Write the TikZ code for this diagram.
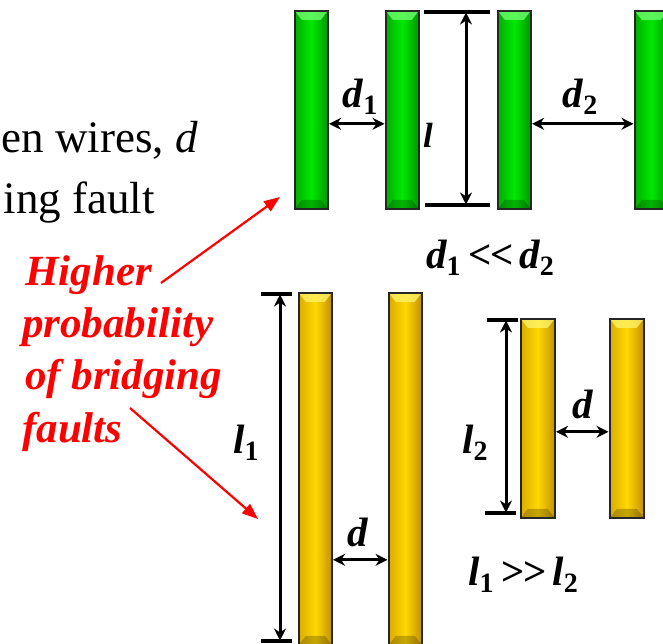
\documentclass[tikz,border=0pt]{standalone}
\usepackage{fontspec}
\setmainfont{Liberation Serif}
\usetikzlibrary{arrows.meta}
\definecolor{gmain}{RGB}{0,232,0}
\definecolor{gdark}{RGB}{0,150,0}
\definecolor{glight}{RGB}{120,255,120}
\definecolor{ymain}{RGB}{255,215,0}
\definecolor{ydark}{RGB}{195,145,0}
\definecolor{ylight}{RGB}{255,245,110}
\definecolor{redtxt}{RGB}{255,0,0}
\newcommand{\wsub}[1]{\raisebox{-0.16em}{\fontsize{28}{28}\selectfont\bfseries\upshape #1}}
\tikzset{
  wire/.style={draw=black!85, line width=1.6pt, inner sep=0pt, minimum width=33pt, anchor=north west,
    path picture={
      \fill[#1,opacity=0.75] (path picture bounding box.north west) -- (path picture bounding box.north east)
        -- ([xshift=-7pt,yshift=-9pt]path picture bounding box.north east)
        -- ([xshift=7pt,yshift=-9pt]path picture bounding box.north west) -- cycle;
      \fill[black,opacity=0.22] (path picture bounding box.south west) -- (path picture bounding box.south east)
        -- ([xshift=-7pt,yshift=9pt]path picture bounding box.south east)
        -- ([xshift=7pt,yshift=9pt]path picture bounding box.south west) -- cycle;
    }},
  gwire/.style={wire=glight, left color=gdark!70!gmain, right color=gdark, middle color=gmain},
  ywire/.style={wire=ylight, left color=ydark!60!ymain, right color=ydark, middle color=ymain},
  dimarrow/.style={line width=3pt, {Stealth[length=12pt,width=12pt]}-{Stealth[length=12pt,width=12pt]}, shorten <=0.5pt, shorten >=0.5pt},
  tickbar/.style={line width=3.8pt},
  lab/.style={font=\fontsize{41}{41}\selectfont\bfseries\itshape, inner sep=0pt},
  redlab/.style={font=\fontsize{43}{43}\selectfont\bfseries\itshape, text=redtxt, inner sep=0pt, anchor=base west},
  bodytext/.style={font=\fontsize{45}{45}\selectfont, inner sep=0pt, anchor=base east},
  redarrow/.style={draw=redtxt, line width=2.2pt, -{Triangle[length=16pt,width=12pt]}}
}
\begin{document}
\begin{tikzpicture}[x=1pt,y=-1pt]
\useasboundingbox (0,0) rectangle (663,643);
\clip (0,0) rectangle (663,643);

% body text (cut at left)
\node[bodytext] (t1) at (198,152) {en wires, \textit{d}};
\node[bodytext] (t2) at (155,213) {ing fault};

% green wires
\node[gwire, minimum height=198pt] (g1) at (294,10) {};
\node[gwire, minimum height=198pt] (g2) at (385,10) {};
\node[gwire, minimum height=198pt] (g3) at (497,10) {};
\node[gwire, minimum height=198pt] (g4) at (634,10) {};

\draw[dimarrow] ([yshift=-14pt]g1.east) -- ([yshift=-14pt]g2.west);
\draw[dimarrow] ([yshift=-14pt]g3.east) -- ([yshift=-14pt]g4.west);
\node[lab] (d1) at (360,97) {d\wsub{1}};
\node[lab] (d2) at (580,97) {d\wsub{2}};

\coordinate (lt) at (466,12);
\coordinate (lb) at (466,205);
\draw[tickbar] ([xshift=-42pt]lt) -- ([xshift=24pt]lt);
\draw[tickbar] ([xshift=-41pt]lb) -- ([xshift=24pt]lb);
\draw[dimarrow] (lt) -- (lb);
\node[lab, font=\fontsize{35}{35}\selectfont\bfseries\itshape] (l) at (428,135) {l};

\node[lab] (cmp1) at (490,258) {d\wsub{1}\kern8pt{\upshape\textless\kern-2pt\textless}\kern6pt d\wsub{2}};

% yellow wires
\node[ywire, minimum height=352pt] (ya) at (298,292) {};
\node[ywire, minimum height=352pt] (yb) at (388,292) {};
\node[ywire, minimum height=199pt, minimum width=34pt] (yc) at (520,318) {};
\node[ywire, minimum height=199pt, minimum width=34pt] (yd) at (609,318) {};

\coordinate (l1t) at (280,294);
\coordinate (l1b) at (280,641);
\draw[tickbar] ([xshift=-19pt]l1t) -- ([xshift=12pt]l1t);
\draw[tickbar] ([xshift=-19pt]l1b) -- ([xshift=12pt]l1b);
\draw[dimarrow] (l1t) -- (l1b);
\node[lab] (l1) at (246,443) {l\wsub{1}};

\draw[dimarrow] ([yshift=-91pt]ya.east) -- ([yshift=-91pt]yb.west);
\node[lab] (da) at (358,532) {d};

\coordinate (l2t) at (506,320);
\coordinate (l2b) at (506,513);
\draw[tickbar] ([xshift=-19pt]l2t) -- ([xshift=12pt]l2t);
\draw[tickbar] ([xshift=-21pt]l2b) -- ([xshift=10pt]l2b);
\draw[dimarrow] (l2t) -- (l2b);
\node[lab] (l2) at (475,443) {l\wsub{2}};

\draw[dimarrow] ([yshift=-13.5pt]yc.east) -- ([yshift=-13.5pt]yd.west);
\node[lab] (db) at (583,404) {d};

\node[lab] (cmp2) at (523,575) {l\wsub{1}\kern8pt{\upshape\textgreater\kern-2pt\textgreater}\kern6pt l\wsub{2}};

% red annotation
\node[redlab] (r1) at (25,285) {Higher};
\node[redlab] (r2) at (22,337) {probability};
\node[redlab] (r3) at (25,389) {of bridging};
\node[redlab] (r4) at (22,442) {faults};

\coordinate (a1s) at (161,283);
\coordinate (a1e) at (280,197);
\coordinate (a2s) at (130,408);
\coordinate (a2e) at (258,519);
\draw[redarrow] (a1s) -- (a1e);
\draw[redarrow] (a2s) -- (a2e);
\end{tikzpicture}
\end{document}
